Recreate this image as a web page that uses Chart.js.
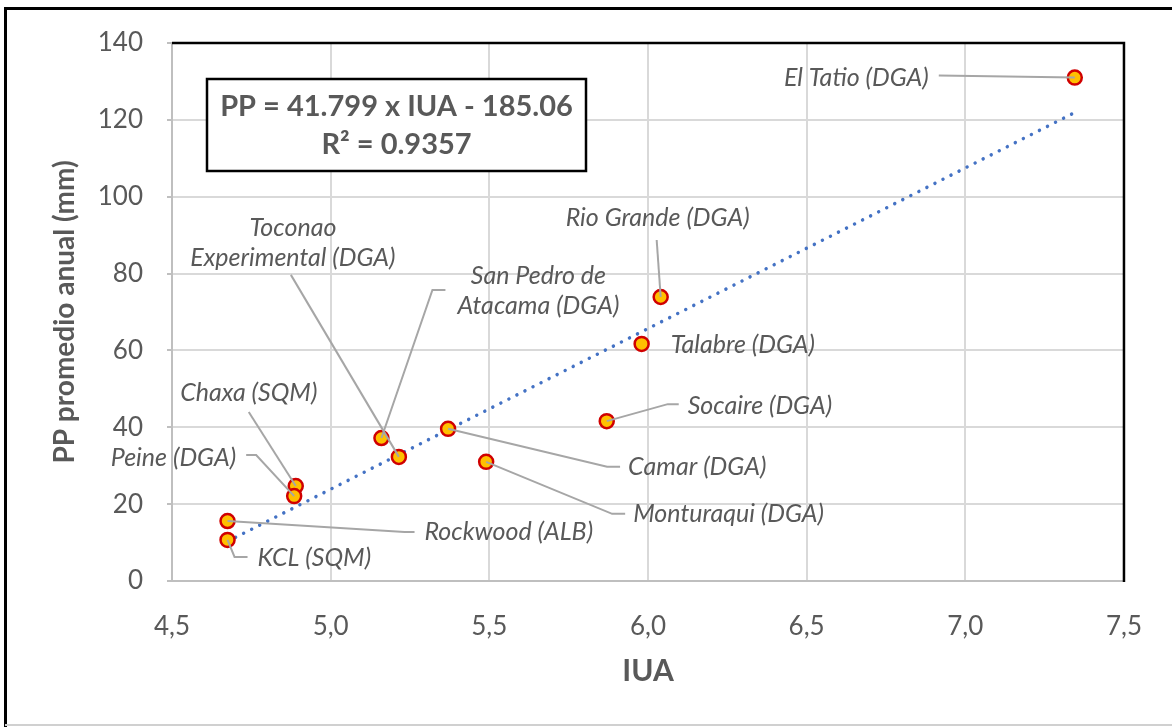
<!DOCTYPE html>
<html>
<head>
  <title>PP promedio anual vs IUA</title>
  <meta charset="UTF-8">
  <style>
    html, body {
      margin: 0;
      padding: 0;
      background: #fff;
    }
    #wrap {
      width: 1172px;
      height: 727px;
    }
  </style>
  <script src="https://cdn.jsdelivr.net/npm/chart.js@4"></script>
</head>
<body>
  <div id="wrap">
    <canvas id="ppChart" width="1172" height="727"></canvas>
  </div>

  <script>
  // stations (labels as shown on the chart, \n = line break)
  const stations = [
    "El Tatio (DGA)", "Rio Grande (DGA)", "Talabre (DGA)", "Socaire (DGA)",
    "Camar (DGA)", "Monturaqui (DGA)", "San Pedro de\nAtacama (DGA)",
    "Toconao\nExperimental (DGA)", "Chaxa (SQM)", "Peine (DGA)",
    "Rockwood (ALB)", "KCL (SQM)"
  ];
  const iua = [7.345, 6.04, 5.98, 5.87, 5.37, 5.49, 5.16, 5.215, 4.89, 4.885, 4.675, 4.675];
  const pp  = [131.0, 73.9, 61.7, 41.6, 39.6, 31.0, 37.2, 32.3, 24.7, 22.1, 15.6, 10.7];

  // linear trend line ends
  const trendX = [4.675, 7.34];
  const trendY = [10.3, 121.7];

  const eqLines = ["PP = 41.799 x IUA - 185.06", "R² = 0.9357"];

  const xTicks = { min: 4.5, max: 7.5, step: 0.5 };
  const yTicks = { min: 0, max: 140, step: 20 };

  // label placement (pixel offsets from each point), same order as stations
  const labelLayout = [
    { dx: -146, dy: 0,    align: "right",  leader: [[-136, -2]] },
    { dx: -3,   dy: -79,  align: "center", leader: [[-4, -57]] },
    { dx: 29,   dy: 1,    align: "left",   leader: [] },
    { dx: 81,   dy: -15,  align: "left",   leader: [[72, -17], [61, -17]] },
    { dx: 180,  dy: 38,   align: "left",   leader: [[172, 38], [159, 38]] },
    { dx: 147,  dy: 52,   align: "left",   leader: [[139, 52], [126, 52]] },
    { dx: 157,  dy: -162, align: "center", leader: [[64, -148], [51, -148]] },
    { dx: -106, dy: -229, align: "center", leader: [[-108, -182]] },
    { dx: -47,  dy: -93,  align: "center", leader: [[-47, -74]] },
    { dx: -58,  dy: -38,  align: "right",  leader: [[-48, -41], [-38, -41]] },
    { dx: 197,  dy: 11,   align: "left",   leader: [[187, 11], [177, 11]] },
    { dx: 30,   dy: 18,   align: "left",   leader: [[20, 17], [7, 17]] }
  ];

  const textGray = "#595959";
  const FONT = "Lato, 'Open Sans', sans-serif";

  const points = iua.map((x, i) => ({ x: x, y: pp[i] }));
  const trend = trendX.map((x, i) => ({ x: x, y: trendY[i] }));

  // frame, plot border, leader lines, point labels and equation box
  const decorations = {
    id: "decorations",
    beforeDraw(chart) {
      const ctx = chart.ctx;
      ctx.save();
      ctx.fillStyle = "#fff";
      ctx.fillRect(0, 0, chart.width, chart.height);
      ctx.restore();
    },
    afterDatasetsDraw(chart) {
      const ctx = chart.ctx;
      const meta = chart.getDatasetMeta(1);
      ctx.save();
      // leader lines
      ctx.strokeStyle = "#a6a6a6";
      ctx.lineWidth = 2;
      meta.data.forEach((pt, i) => {
        const lay = labelLayout[i];
        if (!lay.leader.length) return;
        ctx.beginPath();
        lay.leader.forEach((p, k) => {
          if (k === 0) ctx.moveTo(pt.x + p[0], pt.y + p[1]);
          else ctx.lineTo(pt.x + p[0], pt.y + p[1]);
        });
        ctx.lineTo(pt.x, pt.y);
        ctx.stroke();
      });
      // labels
      ctx.fillStyle = textGray;
      ctx.font = "italic 25px " + FONT;
      ctx.textBaseline = "middle";
      meta.data.forEach((pt, i) => {
        const lay = labelLayout[i];
        ctx.textAlign = lay.align;
        stations[i].split("\n").forEach((line, k) => {
          ctx.fillText(line, pt.x + lay.dx, pt.y + lay.dy + k * 30);
        });
      });
      ctx.restore();
    },
    afterDraw(chart) {
      const ctx = chart.ctx;
      const a = chart.chartArea;
      ctx.save();
      // plot area top + right border
      ctx.strokeStyle = "#000";
      ctx.lineWidth = 2.5;
      ctx.beginPath();
      ctx.moveTo(a.left, a.top);
      ctx.lineTo(a.right, a.top);
      ctx.lineTo(a.right, a.bottom + 1);
      ctx.stroke();

      // equation box
      const bx = a.left + 35, by = a.top + 36, bw = 379, bh = 92;
      ctx.fillStyle = "#fff";
      ctx.fillRect(bx, by, bw, bh);
      ctx.lineWidth = 2.5;
      ctx.strokeRect(bx, by, bw, bh);
      ctx.fillStyle = textGray;
      ctx.font = "bold 29px " + FONT;
      ctx.textAlign = "center";
      ctx.textBaseline = "middle";
      ctx.fillText(eqLines[0], bx + bw / 2, by + 28);
      ctx.fillText(eqLines[1], bx + bw / 2, by + 66);

      // outer chart frame
      ctx.strokeStyle = "#000";
      ctx.lineWidth = 3;
      ctx.beginPath();
      ctx.moveTo(5.5, chart.height);
      ctx.lineTo(5.5, 8.5);
      ctx.lineTo(chart.width, 8.5);
      ctx.stroke();
      ctx.strokeStyle = "#d0d0d0";
      ctx.lineWidth = 2;
      ctx.beginPath();
      ctx.moveTo(5, chart.height - 2);
      ctx.lineTo(chart.width, chart.height - 2);
      ctx.stroke();
      ctx.restore();
    }
  };

  new Chart(document.getElementById("ppChart").getContext("2d"), {
    type: "scatter",
    data: {
      datasets: [
        {
          type: "line",
          label: "Tendencia",
          data: trend,
          borderColor: "#4472C4",
          borderWidth: 3.5,
          borderDash: [0.01, 9],
          borderCapStyle: "round",
          pointRadius: 0,
          fill: false,
          order: 2
        },
        {
          label: "Estaciones",
          data: points,
          backgroundColor: "#FFC000",
          borderColor: "#D00000",
          borderWidth: 2.5,
          pointRadius: 7,
          pointHoverRadius: 7,
          order: 1
        }
      ]
    },
    options: {
      responsive: false,
      animation: false,
      devicePixelRatio: 1,
      layout: { padding: { top: 43, right: 45, left: 0, bottom: 0 } },
      plugins: {
        legend: { display: false },
        tooltip: { enabled: false }
      },
      scales: {
        x: {
          type: "linear",
          min: xTicks.min,
          max: xTicks.max,
          afterFit(scale) { scale.height = 146; },
          ticks: {
            stepSize: xTicks.step,
            color: textGray,
            font: { family: FONT, size: 26 },
            padding: 30,
            callback: v => v.toFixed(1).replace(".", ",")
          },
          grid: { color: "#d9d9d9", lineWidth: 2, drawTicks: false },
          border: { color: "#bfbfbf", width: 2 },
          title: {
            display: true,
            text: "IUA",
            color: textGray,
            font: { family: FONT, size: 30, weight: "bold" },
            padding: { top: 0, bottom: 38 }
          }
        },
        y: {
          min: yTicks.min,
          max: yTicks.max,
          afterFit(scale) { scale.width = 172; },
          ticks: {
            stepSize: yTicks.step,
            color: textGray,
            font: { family: FONT, size: 26 },
            padding: 24
          },
          grid: { color: "#d9d9d9", lineWidth: 2, tickLength: 5, tickColor: "#bfbfbf" },
          border: { color: "#bfbfbf", width: 2 },
          title: {
            display: true,
            text: "PP promedio anual (mm)",
            color: textGray,
            font: { family: FONT, size: 28, weight: "bold" },
            padding: { top: 48, bottom: 0 }
          }
        }
      }
    },
    plugins: [decorations]
  });
  </script>
</body>
</html>
